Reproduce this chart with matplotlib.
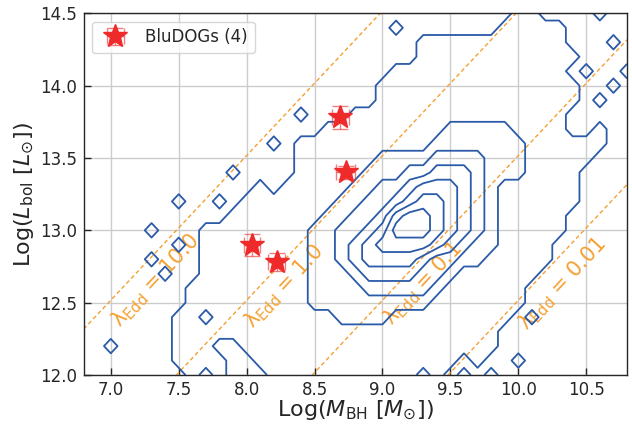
import numpy as np
import matplotlib
matplotlib.use("Agg")
import matplotlib.pyplot as plt

# ---------------- data ----------------
# bin centres of the (log M_BH, log L_bol) number-density map
mbh_grid = np.round(np.arange(6.8, 10.81, 0.1), 2)     # 41 columns
lbol_grid = np.round(np.arange(12.0, 14.51, 0.1), 2)   # 26 rows
# smoothed number density (contour steps) per 0.1 dex cell, rows from
# log L = 14.5 (top) down to 12.0 (bottom); columns log M = 6.8 ... 10.8
density_rows_top_down = [
    "0000000000 0000000000 0000000000 0011000010 0",  # 14.5
    "0000000000 0000000000 0001000000 0111110000 0",  # 14.4
    "0000000000 0000000000 0000011111 1111110001 0",  # 14.3
    "0000000000 0000000000 0000011111 1111111000 0",  # 14.2
    "0000000000 0000000000 0001111111 1111110100 1",  # 14.1
    "0000000000 0000000000 0011111111 1111111001 0",  # 14.0
    "0000000000 0000000000 0011111111 1111111010 0",  # 13.9
    "0000000000 0000001000 1111111111 1111110000 0",  # 13.8
    "0000000000 0000000011 1111111222 2211110010 0",  # 13.7
    "0000000000 0000101111 1111112222 2221111110 0",  # 13.6
    "0000000000 0000001111 1122223333 2221111100 0",  # 13.5
    "0000000000 0100001111 1222334443 2221111000 0",  # 13.4
    "0000000000 0001011111 2233455543 2111111000 0",  # 13.3
    "0000000100 1011111112 2334566543 2111111000 0",  # 13.2
    "0000000000 0111111122 3346776543 2111110000 0",  # 13.1
    "0000010001 1111111223 3457776543 2111110000 0",  # 13.0
    "0000000101 1111111223 4566665432 2111100000 0",  # 12.9
    "0000010001 1111111223 4555543322 1111100000 0",  # 12.8
    "0000001001 1111111222 3444433211 1111000000 0",  # 12.7
    "0000000011 1111111222 2333332111 1110000000 0",  # 12.6
    "0000000011 1111111222 2222221111 1110000000 0",  # 12.5
    "0000000110 1111111112 2221111111 1101000000 0",  # 12.4
    "0000000111 1111111111 1111111111 1000000000 0",  # 12.3
    "0010000111 0011111111 1111111111 1000000000 0",  # 12.2
    "0000000111 1001111111 1111111101 0010000000 0",  # 12.1
    "0000000010 1000111111 1111101010 1000000000 0",  # 12.0
]
contour_levels = [0.5, 1.5, 2.5, 3.5, 4.5, 5.5, 6.5]

# BluDOGs
bludogs_mbh = [8.69, 8.73, 8.04, 8.22]
bludogs_lbol = [13.78, 13.40, 12.90, 12.78]
bludogs_mbh_err = [0.06, 0.07, 0.06, 0.06]
bludogs_lbol_err = [0.08, 0.045, 0.078, 0.063]

# Eddington-ratio lines
eddington_ratios = [10.0, 1.0, 0.1, 0.01]
eddington_labels = ["10.0", "1.0", "0.1", "0.01"]
log_ledd_per_msun = 4.517   # log10(1.26e38 erg/s / L_sun)

x_ticks = [7.0, 7.5, 8.0, 8.5, 9.0, 9.5, 10.0, 10.5]
y_ticks = [12.0, 12.5, 13.0, 13.5, 14.0, 14.5]

# ---------------- layout / style ----------------
label_pos = [(7.33, 12.65), (8.28, 12.61), (9.30, 12.63), (10.33, 12.63)]
blue = "#2a5aa8"
orange = "#f5a032"
red = "#ee2a2a"
ink = "#262626"

plt.rcParams["font.family"] = ["DejaVu Sans"]
plt.rcParams["text.color"] = ink
plt.rcParams["axes.labelcolor"] = ink
plt.rcParams["xtick.color"] = ink
plt.rcParams["ytick.color"] = ink

density = np.array([[int(c) for c in row.replace(" ", "")]
                    for row in density_rows_top_down[::-1]], dtype=float)

fig = plt.figure(figsize=(6.32, 4.25), dpi=100)
ax = fig.add_axes([0.1323, 0.1176, 0.8598, 0.8511])

ax.set_xlim(6.8, 10.8)
ax.set_ylim(12.0, 14.5)
ax.grid(True, color="#cccccc", linewidth=1.0, zorder=0)
ax.set_axisbelow(True)

# Eddington ratio lines
mline = np.array([6.8, 10.8])
for lam, lab, (tx, ty) in zip(eddington_ratios, eddington_labels, label_pos):
    ax.plot(mline, mline + log_ledd_per_msun + np.log10(lam), color=orange,
            linestyle=(0, (3.0, 2.0)), linewidth=1.0, zorder=1.5)
    ax.text(tx, ty, "λ$_{\\rm Edd}$ = " + lab, color=orange, fontsize=15,
            rotation=47, rotation_mode="anchor", ha="center", va="center",
            zorder=1.6)

# density contours
ax.contour(mbh_grid, lbol_grid, density, levels=contour_levels,
           colors=blue, linewidths=1.3, zorder=2)

# BluDOGs
ax.errorbar(bludogs_mbh, bludogs_lbol, xerr=bludogs_mbh_err,
            yerr=bludogs_lbol_err, fmt="*", color=red, ms=18,
            markeredgecolor=red, ecolor=(0.93, 0.16, 0.16, 0.6),
            elinewidth=1.0, capsize=6, capthick=1.0,
            label="BluDOGs (4)", zorder=5)

ax.legend(loc="upper left", fontsize=12, frameon=True)

ax.set_xticks(x_ticks)
ax.set_yticks(y_ticks)
ax.set_xticklabels([f"{v:.1f}" for v in x_ticks])
ax.set_yticklabels([f"{v:.1f}" for v in y_ticks])
ax.tick_params(direction="in", length=5, width=1.0, labelsize=12, pad=5)
ax.tick_params(axis="x", pad=4)
for sp in ax.spines.values():
    sp.set_color(ink)
    sp.set_linewidth(1.0)

ax.set_xlabel(r"Log($M_{\rm BH}$ [$M_{\odot}$])", fontsize=16, labelpad=0)
ax.set_ylabel(r"Log($L_{\rm bol}$ [$L_{\odot}$])", fontsize=16, labelpad=3)

fig.savefig("out.png", dpi=100)
